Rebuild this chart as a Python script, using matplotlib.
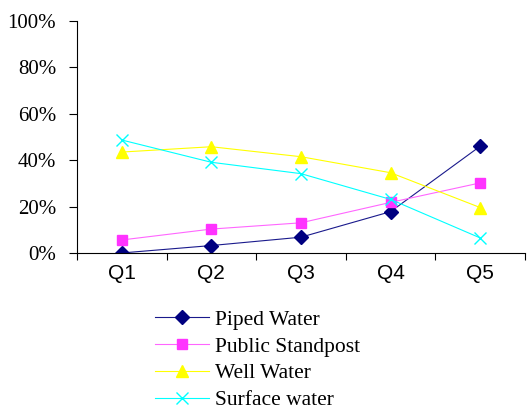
import matplotlib
matplotlib.use('Agg')
from matplotlib import pyplot as plt
import numpy as np

quintiles = ['Q1', 'Q2', 'Q3', 'Q4', 'Q5']
piped = [0.0, 3.2, 6.8, 17.8, 46.0]
standpost = [5.6, 10.3, 13.0, 21.8, 30.2]
well = [43.5, 45.8, 41.5, 34.6, 19.6]
surface = [48.7, 39.1, 34.2, 23.1, 6.5]

fig = plt.figure(figsize=(5.27, 4.12), dpi=100)
ax = fig.add_axes([0.146, 0.386, 0.85, 0.563])

x = np.arange(len(quintiles))
l1, = ax.plot(x, piped, color='#1a1a8c', lw=0.8, marker='D', ms=7,
              mfc='#000080', mec='#000080', label='Piped Water')
l2, = ax.plot(x, standpost, color='#FF66FF', lw=0.8, marker='s', ms=7.5,
              mfc='#FF33FF', mec='#FF33FF', label='Public Standpost')
l3, = ax.plot(x, well, color='#FFFF00', lw=0.8, marker='^', ms=9,
              mfc='#FFFF00', mec='#FFFF00', label='Well Water')
l4, = ax.plot(x, surface, color='#00FFFF', lw=0.8, marker='x', ms=9,
              mew=1.0, label='Surface water')

ax.set_xlim(-0.5, 4.5)
ax.set_ylim(0, 100)
ax.set_yticks(np.arange(0, 101, 20))
ax.set_yticklabels(['%d%%' % v for v in range(0, 101, 20)],
                   fontfamily='Liberation Serif', fontsize=15)
ax.set_xticks(np.arange(-0.5, 4.6, 1.0))
ax.set_xticklabels([])
ax.set_xticks(x, minor=True)
ax.set_xticklabels(quintiles, minor=True, fontfamily='Liberation Sans', fontsize=15)
ax.tick_params(axis='x', which='major', direction='out', length=5, width=0.8)
ax.tick_params(axis='x', which='minor', length=0, pad=8)
ax.tick_params(axis='y', direction='out', length=6, width=0.8, pad=9)

for s in ['top', 'right']:
    ax.spines[s].set_visible(False)
ax.spines['left'].set_linewidth(0.8)
ax.spines['bottom'].set_linewidth(0.8)

fig.legend(handles=[l1, l2, l3, l4], loc='upper left', bbox_to_anchor=(0.294, 0.248),
           frameon=False, prop={'family': 'Liberation Serif', 'size': 15.5},
           handlelength=2.5, handletextpad=0.28, labelspacing=0.31,
           borderaxespad=0, borderpad=0)

fig.savefig('out.png', dpi=100)
